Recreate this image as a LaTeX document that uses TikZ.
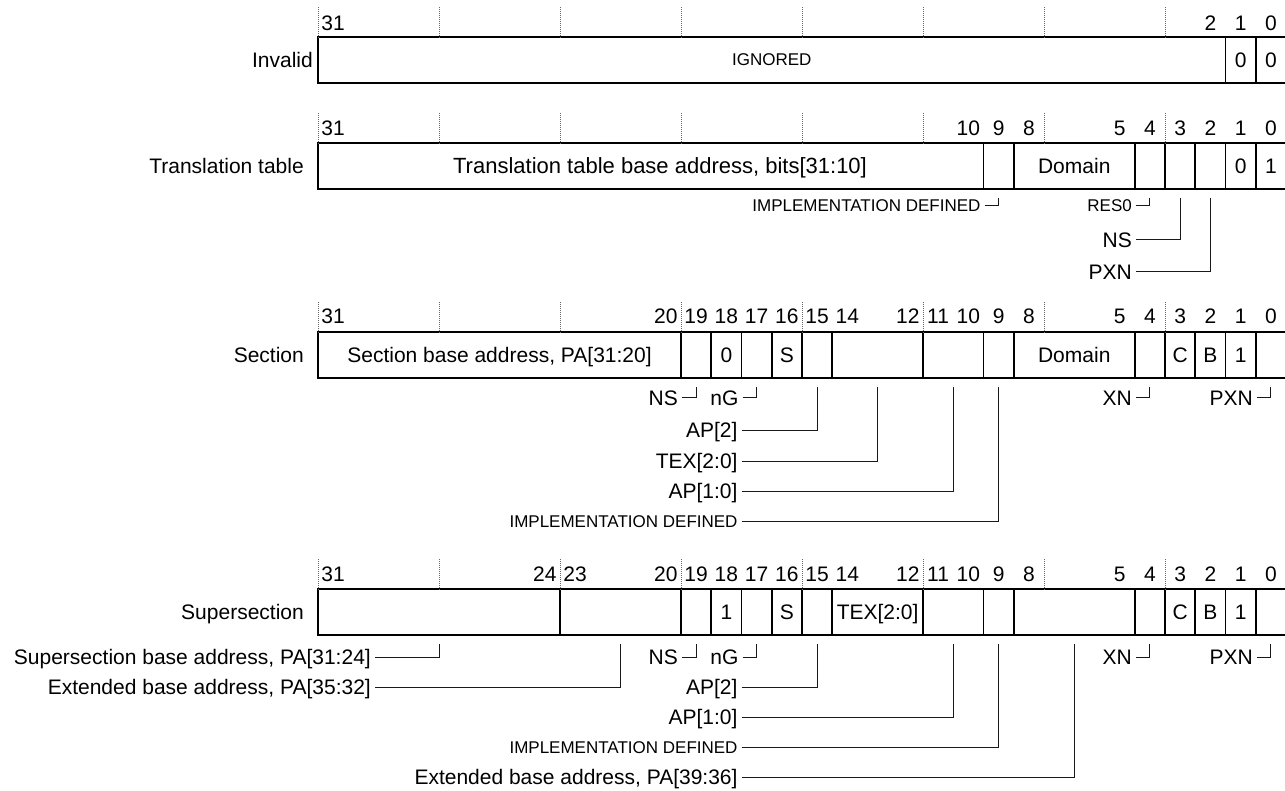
\documentclass[tikz,border=0pt]{standalone}
\usepackage{fontspec}
\setmainfont{Liberation Sans}
\usepackage{tikz}

\begin{document}
\begin{tikzpicture}[x=1pt, y=-1pt,
    field/.style={draw, line width=1.7pt, minimum height=45.5pt, inner sep=0pt, text height=15pt, text depth=0pt, font=\fontsize{21}{25}\selectfont},
    bits/.style={minimum width=#1*30.25pt},
    bitno/.style={inner sep=0pt, text height=15pt, text depth=0pt, font=\fontsize{21}{25}\selectfont},
    rowname/.style={anchor=east, inner sep=0pt, text height=15pt, text depth=0pt, font=\fontsize{21}{25}\selectfont},
    lbl/.style={anchor=east, inner xsep=4pt, inner ysep=0pt, text height=15pt, text depth=0pt, font=\fontsize{21}{25}\selectfont},
    small/.style={text height=12pt, font=\fontsize{17}{20}\selectfont},
    guide/.style={black!60, line width=0.7pt, dash pattern=on 1pt off 1pt},
    lead/.style={black!90, line width=1pt}]
    \useasboundingbox (0,0) rectangle (1285,791);

    \node (invalid) [rowname] at (313,60) {Invalid};
    \node (inv-ign) [field, small, bits=30] at (771.75,60) {IGNORED};
    \node (inv-1) [field, bits=1] at (1240.63,60) {0};
    \node (inv-0) [field, bits=1] at (1270.88,60) {0};
    \node (i31) [bitno] at (333.13,23) {31};
    \node (i2) [bitno] at (1210.38,23) {2};
    \node (i1) [bitno] at (1240.63,23) {1};
    \node (i0) [bitno] at (1270.88,23) {0};
    \draw[guide] (318,7) -- (318,37.25);
    \draw[guide] (439,7) -- (439,37.25);
    \draw[guide] (560,7) -- (560,37.25);
    \draw[guide] (681,7) -- (681,37.25);
    \draw[guide] (802,7) -- (802,37.25);
    \draw[guide] (923,7) -- (923,37.25);
    \draw[guide] (1044,7) -- (1044,37.25);
    \draw[guide] (1165,7) -- (1165,37.25);

    \node (ttable) [rowname] at (304,166) {Translation table};
    \node (tt-base) [field, bits=22, font=\fontsize{22}{26}\selectfont] at (650.75,166) {\hspace*{18.5pt}Translation table base address, bits[31:10]};
    \node (tt-9) [field, bits=1] at (998.63,166) {};
    \node (tt-dom) [field, bits=4] at (1074.25,166) {Domain};
    \node (tt-4) [field, bits=1] at (1149.88,166) {};
    \node (tt-3) [field, bits=1] at (1180.13,166) {};
    \node (tt-2) [field, bits=1] at (1210.38,166) {};
    \node (tt-1) [field, bits=1] at (1240.63,166) {0};
    \node (tt-0) [field, bits=1] at (1270.88,166) {1};
    \node (t31) [bitno] at (333.13,128) {31};
    \node (t10) [bitno] at (968.38,128) {10};
    \node (t9) [bitno] at (998.63,128) {9};
    \node (t8) [bitno] at (1028.88,128) {8};
    \node (t5) [bitno] at (1119.63,128) {5};
    \node (t4) [bitno] at (1149.88,128) {4};
    \node (t3) [bitno] at (1180.13,128) {3};
    \node (t2) [bitno] at (1210.38,128) {2};
    \node (t1) [bitno] at (1240.63,128) {1};
    \node (t0) [bitno] at (1270.88,128) {0};
    \draw[guide] (318,113) -- (318,143.25);
    \draw[guide] (439,113) -- (439,143.25);
    \draw[guide] (560,113) -- (560,143.25);
    \draw[guide] (681,113) -- (681,143.25);
    \draw[guide] (802,113) -- (802,143.25);
    \draw[guide] (923,113) -- (923,143.25);
    \draw[guide] (1044,113) -- (1044,143.25);
    \draw[guide] (1165,113) -- (1165,143.25);
    \node (t-impl) [lbl, small] at (984.6,206) {IMPLEMENTATION DEFINED};
    \node (t-res0) [lbl, small] at (1136,206) {RES0};
    \node (t-ns) [lbl] at (1136,240) {NS};
    \node (t-pxn) [lbl] at (1136,272) {PXN};
    \draw[lead] (t-impl) -| ([yshift=-8pt]tt-9.south);
    \draw[lead] (t-res0) -| ([yshift=-8pt]tt-4.south);
    \draw[lead] (t-ns) -| ([yshift=-8pt]tt-3.south);
    \draw[lead] (t-pxn) -| ([yshift=-8pt]tt-2.south);

    \node (section) [rowname] at (304,355) {Section};
    \node (sec-base) [field, bits=12] at (499.5,355) {Section base address, PA[31:20]};
    \node (sec-19) [field, bits=1] at (696.13,355) {};
    \node (sec-18) [field, bits=1] at (726.38,355) {0};
    \node (sec-17) [field, bits=1] at (756.63,355) {};
    \node (sec-16) [field, bits=1] at (786.88,355) {S};
    \node (sec-15) [field, bits=1] at (817.13,355) {};
    \node (sec-tex) [field, bits=3] at (877.63,355) {};
    \node (sec-ap) [field, bits=2] at (953.25,355) {};
    \node (sec-9) [field, bits=1] at (998.63,355) {};
    \node (sec-dom) [field, bits=4] at (1074.25,355) {Domain};
    \node (sec-4) [field, bits=1] at (1149.88,355) {};
    \node (sec-3) [field, bits=1] at (1180.13,355) {C};
    \node (sec-2) [field, bits=1] at (1210.38,355) {B};
    \node (sec-1) [field, bits=1] at (1240.63,355) {1};
    \node (sec-0) [field, bits=1] at (1270.88,355) {};
    \node (s31) [bitno] at (333.13,316) {31};
    \node (s20) [bitno] at (665.88,316) {20};
    \node (s19) [bitno] at (696.13,316) {19};
    \node (s18) [bitno] at (726.38,316) {18};
    \node (s17) [bitno] at (756.63,316) {17};
    \node (s16) [bitno] at (786.88,316) {16};
    \node (s15) [bitno] at (817.13,316) {15};
    \node (s14) [bitno] at (847.38,316) {14};
    \node (s12) [bitno] at (907.88,316) {12};
    \node (s11) [bitno] at (938.13,316) {11};
    \node (s10) [bitno] at (968.38,316) {10};
    \node (s9) [bitno] at (998.63,316) {9};
    \node (s8) [bitno] at (1028.88,316) {8};
    \node (s5) [bitno] at (1119.63,316) {5};
    \node (s4) [bitno] at (1149.88,316) {4};
    \node (s3) [bitno] at (1180.13,316) {3};
    \node (s2) [bitno] at (1210.38,316) {2};
    \node (s1) [bitno] at (1240.63,316) {1};
    \node (s0) [bitno] at (1270.88,316) {0};
    \draw[guide] (318,302) -- (318,332.25);
    \draw[guide] (439,302) -- (439,332.25);
    \draw[guide] (560,302) -- (560,332.25);
    \draw[guide] (681,302) -- (681,332.25);
    \draw[guide] (802,302) -- (802,332.25);
    \draw[guide] (923,302) -- (923,332.25);
    \draw[guide] (1044,302) -- (1044,332.25);
    \draw[guide] (1165,302) -- (1165,332.25);
    \node (s-ns) [lbl] at (682,398) {NS};
    \node (s-ng) [lbl] at (742.6,398) {nG};
    \node (s-ap2) [lbl] at (741.7,430) {AP[2]};
    \node (s-tex) [lbl] at (741.7,461) {TEX[2:0]};
    \node (s-ap10) [lbl] at (741.7,491) {AP[1:0]};
    \node (s-impl) [lbl, small] at (741.7,521) {IMPLEMENTATION DEFINED};
    \node (s-xn) [lbl] at (1136,398) {XN};
    \node (s-pxn) [lbl] at (1257,398) {PXN};
    \draw[lead] (s-ns) -| ([yshift=-8pt]sec-19.south);
    \draw[lead] (s-ng) -| ([yshift=-8pt]sec-17.south);
    \draw[lead] (s-ap2) -| ([yshift=-8pt]sec-15.south);
    \draw[lead] (s-tex) -| ([yshift=-8pt]sec-tex.south);
    \draw[lead] (s-ap10) -| ([yshift=-8pt]sec-ap.south);
    \draw[lead] (s-impl) -| ([yshift=-8pt]sec-9.south);
    \draw[lead] (s-xn) -| ([yshift=-8pt]sec-4.south);
    \draw[lead] (s-pxn) -| ([yshift=-8pt]sec-0.south);

    \node (supersec) [rowname] at (304,612) {Supersection};
    \node (sup-hi) [field, bits=8] at (439,612) {};
    \node (sup-ext) [field, bits=4] at (620.5,612) {};
    \node (sup-19) [field, bits=1] at (696.13,612) {};
    \node (sup-18) [field, bits=1] at (726.38,612) {1};
    \node (sup-17) [field, bits=1] at (756.63,612) {};
    \node (sup-16) [field, bits=1] at (786.88,612) {S};
    \node (sup-15) [field, bits=1] at (817.13,612) {};
    \node (sup-tex) [field, bits=3] at (877.63,612) {TEX[2:0]};
    \node (sup-ap) [field, bits=2] at (953.25,612) {};
    \node (sup-9) [field, bits=1] at (998.63,612) {};
    \node (sup-dom) [field, bits=4] at (1074.25,612) {};
    \node (sup-4) [field, bits=1] at (1149.88,612) {};
    \node (sup-3) [field, bits=1] at (1180.13,612) {C};
    \node (sup-2) [field, bits=1] at (1210.38,612) {B};
    \node (sup-1) [field, bits=1] at (1240.63,612) {1};
    \node (sup-0) [field, bits=1] at (1270.88,612) {};
    \node (u31) [bitno] at (333.13,574) {31};
    \node (u24) [bitno] at (544.88,574) {24};
    \node (u23) [bitno] at (575.13,574) {23};
    \node (u20) [bitno] at (665.88,574) {20};
    \node (u19) [bitno] at (696.13,574) {19};
    \node (u18) [bitno] at (726.38,574) {18};
    \node (u17) [bitno] at (756.63,574) {17};
    \node (u16) [bitno] at (786.88,574) {16};
    \node (u15) [bitno] at (817.13,574) {15};
    \node (u14) [bitno] at (847.38,574) {14};
    \node (u12) [bitno] at (907.88,574) {12};
    \node (u11) [bitno] at (938.13,574) {11};
    \node (u10) [bitno] at (968.38,574) {10};
    \node (u9) [bitno] at (998.63,574) {9};
    \node (u8) [bitno] at (1028.88,574) {8};
    \node (u5) [bitno] at (1119.63,574) {5};
    \node (u4) [bitno] at (1149.88,574) {4};
    \node (u3) [bitno] at (1180.13,574) {3};
    \node (u2) [bitno] at (1210.38,574) {2};
    \node (u1) [bitno] at (1240.63,574) {1};
    \node (u0) [bitno] at (1270.88,574) {0};
    \draw[guide] (318,559) -- (318,589.25);
    \draw[guide] (439,559) -- (439,589.25);
    \draw[guide] (560,559) -- (560,589.25);
    \draw[guide] (681,559) -- (681,589.25);
    \draw[guide] (802,559) -- (802,589.25);
    \draw[guide] (923,559) -- (923,589.25);
    \draw[guide] (1044,559) -- (1044,589.25);
    \draw[guide] (1165,559) -- (1165,589.25);
    \node (u-base) [lbl] at (375,657) {Supersection base address, PA[31:24]};
    \node (u-ext) [lbl] at (375,687) {Extended base address, PA[35:32]};
    \node (u-ns) [lbl] at (682,657) {NS};
    \node (u-ng) [lbl] at (742.6,657) {nG};
    \node (u-ap2) [lbl] at (741.7,687) {AP[2]};
    \node (u-ap10) [lbl] at (741.7,717) {AP[1:0]};
    \node (u-impl) [lbl, small] at (741.7,747) {IMPLEMENTATION DEFINED};
    \node (u-pa) [lbl] at (741.7,777) {Extended base address, PA[39:36]};
    \node (u-xn) [lbl] at (1136,657) {XN};
    \node (u-pxn) [lbl] at (1257,657) {PXN};
    \draw[lead] (u-base) -| ([yshift=-8pt]sup-hi.south);
    \draw[lead] (u-ext) -| ([yshift=-8pt]sup-ext.south);
    \draw[lead] (u-ns) -| ([yshift=-8pt]sup-19.south);
    \draw[lead] (u-ng) -| ([yshift=-8pt]sup-17.south);
    \draw[lead] (u-ap2) -| ([yshift=-8pt]sup-15.south);
    \draw[lead] (u-ap10) -| ([yshift=-8pt]sup-ap.south);
    \draw[lead] (u-impl) -| ([yshift=-8pt]sup-9.south);
    \draw[lead] (u-pa) -| ([yshift=-8pt]sup-dom.south);
    \draw[lead] (u-xn) -| ([yshift=-8pt]sup-4.south);
    \draw[lead] (u-pxn) -| ([yshift=-8pt]sup-0.south);
\end{tikzpicture}
\end{document}
